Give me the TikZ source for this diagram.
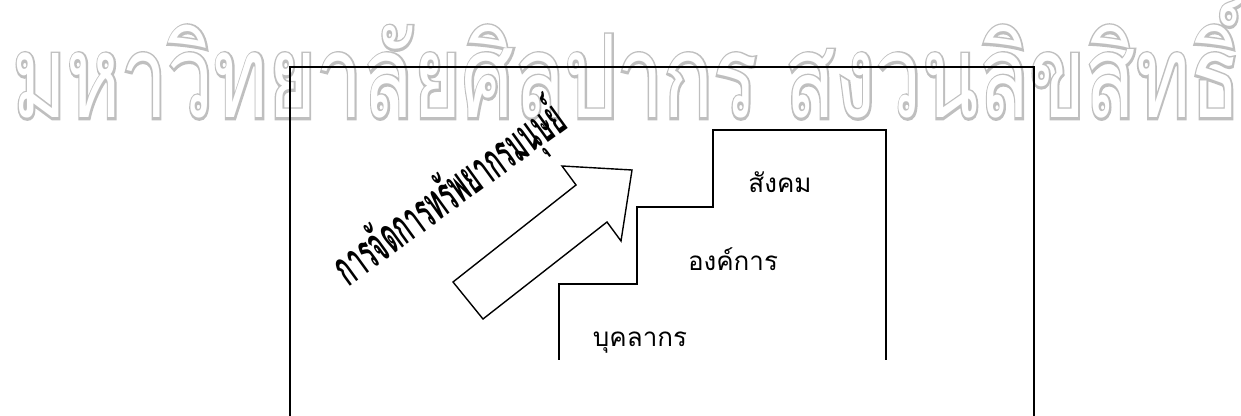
\documentclass[tikz,border=0pt]{standalone}
\usepackage{fontspec}
\usepackage{graphicx}
\newfontfamily\thai[Script=Thai]{Loma}
\newfontfamily\thaistroke[Script=Thai, FakeBold=4]{Loma}
\newcommand\wmtext{มหาวิทยาลัยศิลปากร สงวนลิขสิทธิ์}
\tikzset{
  plainline/.style={line width=0.7pt, draw=black, line join=miter},
  lbl/.style={font=\thai\fontsize{13}{13}\selectfont, inner sep=0pt, anchor=base},
  wmstyle/.style={anchor=base west, inner sep=0pt},
}
\begin{document}
\begin{tikzpicture}[x=0.5pt,y=-0.5pt]
\useasboundingbox (0,0) rectangle (1241,416);
% watermark: gray emboldened copy, white copy on top -> outline
\node[wmstyle, text=black!25] (wm) at (12,118)
  {\resizebox{614pt}{61pt}{\thaistroke\wmtext}};
\node[wmstyle, text=white] (wmfill) at (12,118)
  {\resizebox{614pt}{61pt}{\thai\wmtext}};
% frame
\draw[plainline] (290,416) -- (290,67) -- (1034,67) -- (1034,416);
% stairs
\draw[plainline] (559,360) -- (559,284) -- (637,284) -- (637,207) -- (713,207)
  -- (713,130) -- (886,130) -- (886,360);
% arrow
\draw[plainline, fill=white] (632,170) -- (562,166) -- (576,185) -- (453,282)
  -- (483,319) -- (607,222) -- (621,241) -- cycle;
% labels
\node[lbl] (soc) at (780,193) {สังคม};
\node[lbl] (org) at (733,271) {องค์การ};
\node[lbl] (per) at (640,347) {บุคลากร};
\node[rotate=36, anchor=base, inner sep=0pt, font=\thai\bfseries\fontsize{25}{25}\selectfont] (hrm) at (459,207) {\scalebox{0.48}[1]{การจัดการทรัพยากรมนุษย์}};
\end{tikzpicture}
\end{document}
